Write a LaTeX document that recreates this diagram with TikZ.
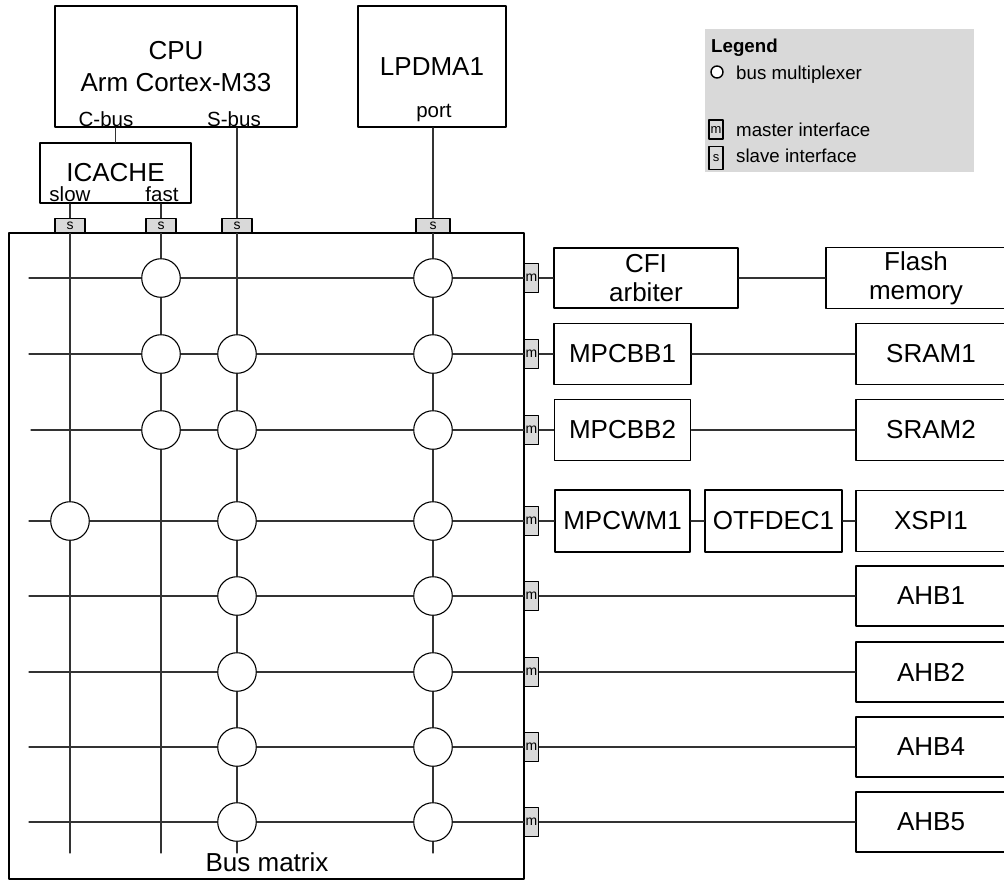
\documentclass[tikz,border=0pt]{standalone}
\usepackage{fontspec}
\setmainfont{Liberation Sans}
\usetikzlibrary{calc}

\begin{document}
\begin{tikzpicture}[
    x=1pt, y=-1pt,
    line cap=round,
    line join=round,
    font=\fontsize{26}{29}\selectfont,
    blk/.style={draw, line width=1.8pt, inner sep=0pt, align=center},
    ifc/.style={draw, line width=1.6pt, fill=black!15, inner sep=0pt,
        font=\fontsize{14}{14}\selectfont},
    mux/.style={circle, draw, line width=1.1pt, fill=white,
        minimum size=38.6, inner sep=0pt},
    bus/.style={line width=1.2pt, black!80},
    plbl/.style={font=\fontsize{20.5}{22}\selectfont, inner sep=0pt},
    lgd/.style={font=\fontsize{18.7}{20}\selectfont, inner sep=0pt}
]

\useasboundingbox (0,0) rectangle (1004,884);

% -----------------------
% Parameters
% -----------------------
\def\rowa{278}
\def\rowb{354}
\def\rowc{430}
\def\rowd{521}
\def\rowe{596}
\def\rowf{672}
\def\rowg{747}
\def\rowh{822}

\def\colslow{70}
\def\colfast{161}
\def\colsbus{237}
\def\coldma{433}

% -----------------------
% Masters
% -----------------------
\node[blk, minimum width=242, minimum height=121] (cpu) at (176,66.5) {CPU\\[3pt]Arm Cortex-M33};
\node[plbl, anchor=base] (cbus) at (106,126) {C-bus};
\node[plbl, anchor=base] (sbus) at (234,126) {S-bus};

\node[blk, minimum width=148, minimum height=121] (dma) at (432,66.5) {LPDMA1};
\node[plbl, anchor=base] (dmaport) at (434,117.5) {port};

\node[blk, minimum width=151, minimum height=60] (icache) at (115.5,173) {ICACHE};
\node[plbl, anchor=base] (slow) at (70,201.5) {slow};
\node[plbl, anchor=base] (fast) at (162,201.5) {fast};

% -----------------------
% Bus matrix
% -----------------------
\node[blk, minimum width=515, minimum height=646] (bm) at (266.5,556) {};
\node[anchor=base, inner sep=0pt] (bmlbl) at (267,871) {Bus matrix};

% slave interfaces
\node[ifc, minimum width=30, minimum height=14] (sia) at (\colslow,225.5) {s};
\node[ifc, minimum width=30, minimum height=14] (sib) at (\colfast,225.5) {s};
\node[ifc, minimum width=30, minimum height=14] (sic) at (\colsbus,225.5) {s};
\node[ifc, minimum width=34, minimum height=14] (sid) at (\coldma,225.5) {s};

% master interfaces
\node[ifc, minimum width=14, minimum height=29] (mia) at (531.5,\rowa) {m};
\node[ifc, minimum width=14, minimum height=29] (mib) at (531.5,\rowb) {m};
\node[ifc, minimum width=14, minimum height=29] (mic) at (531.5,\rowc) {m};
\node[ifc, minimum width=14, minimum height=29] (mid) at (531.5,\rowd) {m};
\node[ifc, minimum width=14, minimum height=29] (mie) at (531.5,\rowe) {m};
\node[ifc, minimum width=14, minimum height=29] (mif) at (531.5,\rowf) {m};
\node[ifc, minimum width=14, minimum height=29] (mig) at (531.5,\rowg) {m};
\node[ifc, minimum width=14, minimum height=29] (mih) at (531.5,\rowh) {m};

% multiplexers
\node[mux] (xaf) at (\colfast,\rowa) {};
\node[mux] (xad) at (\coldma,\rowa) {};
\node[mux] (xbf) at (\colfast,\rowb) {};
\node[mux] (xbb) at (\colsbus,\rowb) {};
\node[mux] (xbd) at (\coldma,\rowb) {};
\node[mux] (xcf) at (\colfast,\rowc) {};
\node[mux] (xcb) at (\colsbus,\rowc) {};
\node[mux] (xcd) at (\coldma,\rowc) {};
\node[mux] (xds) at (\colslow,\rowd) {};
\node[mux] (xdb) at (\colsbus,\rowd) {};
\node[mux] (xdd) at (\coldma,\rowd) {};
\node[mux] (xeb) at (\colsbus,\rowe) {};
\node[mux] (xed) at (\coldma,\rowe) {};
\node[mux] (xfb) at (\colsbus,\rowf) {};
\node[mux] (xfd) at (\coldma,\rowf) {};
\node[mux] (xgb) at (\colsbus,\rowg) {};
\node[mux] (xgd) at (\coldma,\rowg) {};
\node[mux] (xhb) at (\colsbus,\rowh) {};
\node[mux] (xhd) at (\coldma,\rowh) {};

% free ends
\coordinate (la) at (29,\rowa);
\coordinate (lb) at (29,\rowb);
\coordinate (lc) at (31,\rowc);
\coordinate (ld) at (29,\rowd);
\coordinate (le) at (29,\rowe);
\coordinate (lf) at (29,\rowf);
\coordinate (lg) at (29,\rowg);
\coordinate (lh) at (29,\rowh);

\coordinate (es) at (\colslow,853);
\coordinate (ef) at (\colfast,853);
\coordinate (eb) at (\colsbus,853);
\coordinate (ed) at (\coldma,853);

% -----------------------
% Slaves
% -----------------------
\node[blk, minimum width=184, minimum height=60] (cfi) at (646,\rowa) {CFI\\arbiter};
\node[blk, minimum width=180, minimum height=61] (flash) at (916,\rowa) {Flash\\memory};

\node[blk, minimum width=137, minimum height=61] (mpcbba) at (622.5,\rowb) {MPCBB1};
\node[blk, minimum width=150, minimum height=61] (srama) at (931,\rowb) {SRAM1};

\node[blk, minimum width=136, minimum height=61] (mpcbbb) at (622.5,\rowc) {MPCBB2};
\node[blk, minimum width=150, minimum height=61] (sramb) at (931,\rowc) {SRAM2};

\node[blk, minimum width=135, minimum height=62] (mpcwm) at (622.5,\rowd) {MPCWM1};
\node[blk, minimum width=137, minimum height=62] (otfdec) at (773.5,\rowd) {OTFDEC1};
\node[blk, minimum width=150, minimum height=61] (xspi) at (931,\rowd) {XSPI1};

\node[blk, minimum width=150, minimum height=60] (ahba) at (931,\rowe) {AHB1};
\node[blk, minimum width=150, minimum height=60] (ahbb) at (931,\rowf) {AHB2};
\node[blk, minimum width=150, minimum height=60] (ahbd) at (931,\rowg) {AHB4};
\node[blk, minimum width=150, minimum height=60] (ahbe) at (931,\rowh) {AHB5};

% -----------------------
% Master links
% -----------------------
\draw[bus] (icache) -- (icache |- cpu.south);
\draw[bus] (sic) -- (sic |- cpu.south);
\draw[bus] (sid) -- (sid |- dma.south);
\draw[bus] (sia) -- (sia |- icache.south);
\draw[bus] (sib) -- (sib |- icache.south);

% -----------------------
% Columns
% -----------------------
\draw[bus] (sia) -- (xds) -- (es);
\draw[bus] (sib) -- (xaf) -- (xbf) -- (xcf) -- (ef);
\draw[bus] (sic) -- (xbb) -- (xcb) -- (xdb) -- (xeb) -- (xfb) -- (xgb) -- (xhb) -- (eb);
\draw[bus] (sid) -- (xad) -- (xbd) -- (xcd) -- (xdd) -- (xed) -- (xfd) -- (xgd) -- (xhd) -- (ed);

% -----------------------
% Rows
% -----------------------
\draw[bus] (la) -- (xaf) -- (xad) -- (mia) -- (cfi) -- (flash);
\draw[bus] (lb) -- (xbf) -- (xbb) -- (xbd) -- (mib) -- (mpcbba) -- (srama);
\draw[bus] (lc) -- (xcf) -- (xcb) -- (xcd) -- (mic) -- (mpcbbb) -- (sramb);
\draw[bus] (ld) -- (xds) -- (xdb) -- (xdd) -- (mid) -- (mpcwm) -- (otfdec) -- (xspi);
\draw[bus] (le) -- (xeb) -- (xed) -- (mie) -- (ahba);
\draw[bus] (lf) -- (xfb) -- (xfd) -- (mif) -- (ahbb);
\draw[bus] (lg) -- (xgb) -- (xgd) -- (mig) -- (ahbd);
\draw[bus] (lh) -- (xhb) -- (xhd) -- (mih) -- (ahbe);

% -----------------------
% Legend
% -----------------------
\node[fill=black!15, minimum width=269, minimum height=143, inner sep=0pt] (legend) at (839.5,100.5) {};
\node[lgd, anchor=base west, font=\bfseries\fontsize{18.7}{20}\selectfont] (legtitle) at (711,52) {Legend};
\node[mux, minimum size=12, line width=1.4pt] (legmux) at (717,72) {};
\node[lgd, anchor=base west] (legmuxtxt) at (736,79.5) {bus multiplexer};
\node[ifc, fill=none, minimum width=14, minimum height=19, font=\fontsize{13}{13}\selectfont] (legm) at (716,129.5) {m};
\node[lgd, anchor=base west] (legmtxt) at (736,136) {master interface};
\node[ifc, fill=none, minimum width=14, minimum height=23, font=\fontsize{13}{13}\selectfont] (legs) at (716,158) {s};
\node[lgd, anchor=base west] (legstxt) at (736,162.5) {slave interface};

\end{tikzpicture}
\end{document}
